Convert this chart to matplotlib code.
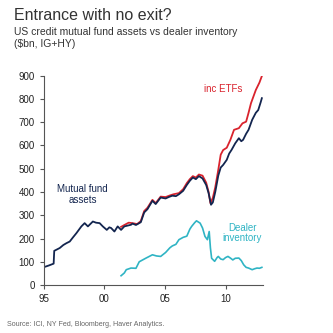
import matplotlib
matplotlib.use("Agg")
import matplotlib.pyplot as plt

plt.rcParams['font.family'] = ['Liberation Sans', 'DejaVu Sans']

# mutual fund assets ($bn)
mf_years = [1995.0, 1995.4, 1995.8, 1995.85, 1996.3, 1996.6, 1996.86, 1997.13, 1997.4, 1997.68,
            1998.09, 1998.36, 1998.63, 1999.04, 1999.3, 1999.6, 1999.86, 2000.19, 2000.4, 2000.55,
            2000.82, 2001.09, 2001.37, 2001.64, 2002.19, 2002.32, 2002.6, 2003.0, 2003.28, 2003.55,
            2003.96, 2004.23, 2004.64, 2005.05, 2005.3, 2005.6, 2005.9, 2006.15, 2006.5, 2006.8,
            2007.05, 2007.3, 2007.55, 2007.8, 2008.1, 2008.4, 2008.6, 2008.8, 2008.95, 2009.15,
            2009.4, 2009.6, 2009.8, 2010.1, 2010.3, 2010.5, 2010.8, 2011.1, 2011.3, 2011.45,
            2011.7, 2011.9, 2012.2, 2012.5, 2012.7, 2012.9, 2013.0]
mf_vals = [77, 84, 92, 147, 159, 172, 180, 187, 205, 223,
           252, 266, 252, 273, 268, 266, 252, 237, 248, 245,
           230, 252, 237, 252, 259, 264, 258, 270, 312, 326,
           362, 348, 376, 372, 378, 384, 382, 390, 405, 430,
           448, 462, 455, 468, 458, 430, 395, 345, 355, 400,
           470, 505, 516, 538, 565, 581, 609, 631, 618, 624,
           650, 667, 710, 740, 752, 785, 803]

# incl. ETFs
etf_years = [2001.37, 2001.64, 2002.0, 2002.32, 2002.7, 2003.0, 2003.28, 2003.55, 2003.96, 2004.23,
             2004.64, 2005.05, 2005.4, 2005.7, 2006.15, 2006.5, 2006.8, 2007.05, 2007.3, 2007.55,
             2007.8, 2008.1, 2008.4, 2008.6, 2008.75, 2008.95, 2009.15, 2009.4, 2009.6, 2009.8,
             2010.1, 2010.4, 2010.7, 2011.1, 2011.4, 2011.7, 2011.9, 2012.1, 2012.5, 2012.8, 2013.0]
etf_vals = [250, 258, 268, 266, 262, 275, 318, 332, 366, 352,
            380, 378, 385, 390, 395, 412, 438, 455, 468, 462,
            475, 470, 440, 400, 352, 375, 420, 495, 560, 580,
            590, 624, 667, 674, 695, 702, 740, 781, 838, 870, 898]

# dealer inventory
dl_years = [2001.37, 2001.64, 2001.8, 2002.19, 2002.6, 2002.87, 2003.4, 2003.96, 2004.3, 2004.64,
            2005.05, 2005.4, 2005.6, 2005.9, 2006.15, 2006.5, 2006.8, 2007.05, 2007.2, 2007.45,
            2007.6, 2007.9, 2008.1, 2008.3, 2008.5, 2008.65, 2008.75, 2008.85, 2009.1, 2009.3,
            2009.4, 2009.6, 2009.8, 2010.0, 2010.2, 2010.4, 2010.6, 2010.8, 2011.1, 2011.3,
            2011.5, 2011.7, 2011.9, 2012.2, 2012.4, 2012.6, 2012.8, 2013.0]
dl_vals = [40, 52, 66, 73, 72, 100, 115, 130, 125, 123,
           140, 160, 168, 175, 195, 205, 210, 240, 252, 268,
           276, 266, 245, 209, 195, 230, 160, 115, 102, 118,
           123, 112, 109, 118, 123, 116, 108, 115, 116, 105,
           87, 76, 73, 66, 70, 73, 72, 76]

xticks = [1995, 2000, 2005, 2010]
xlabels = ['95', '00', '05', '10']
yticks = list(range(0, 901, 100))

navy = '#13254f'
red = '#d9232d'
teal = '#2fb4c4'

fig = plt.figure(figsize=(3.33, 3.33), dpi=100)
ax = fig.add_axes([0.132, 0.144, 0.658, 0.629])

ax.plot(etf_years, etf_vals, color=red, lw=1.3)
ax.plot(mf_years, mf_vals, color=navy, lw=1.3)
ax.plot(dl_years, dl_vals, color=teal, lw=1.2)

ax.set_xlim(1995, 2013.1)
ax.set_ylim(0, 900)
ax.set_xticks(xticks)
ax.set_xticklabels(xlabels)
ax.set_yticks(yticks)
for s in ['top', 'right']:
    ax.spines[s].set_visible(False)
for s in ['left', 'bottom']:
    ax.spines[s].set_color('#555555')
    ax.spines[s].set_linewidth(0.8)
ax.tick_params(axis='both', labelsize=7, colors='#555555', labelcolor='#222222',
               length=3, width=0.8)

ax.text(1998.2, 388, 'Mutual fund\nassets', color=navy, fontsize=7, ha='center', va='center',
        linespacing=1.1)
ax.text(2009.8, 843, 'inc ETFs', color=red, fontsize=7, ha='center', va='center')
ax.text(2011.4, 224, 'Dealer\ninventory', color=teal, fontsize=7, ha='center', va='center',
        linespacing=1.1)

fig.text(0.042, 0.953, 'Entrance with no exit?', fontsize=11.5, color='#333333', va='center')
fig.text(0.042, 0.903, 'US credit mutual fund assets vs dealer inventory', fontsize=7.5,
         color='#333333', va='center')
fig.text(0.042, 0.868, '($bn, IG+HY)', fontsize=7.5, color='#333333', va='center')
fig.text(0.021, 0.027, 'Source: ICI, NY Fed, Bloomberg, Haver Analytics.', fontsize=5.1,
         color='#666666', va='center')

fig.savefig('out.png', dpi=100)
